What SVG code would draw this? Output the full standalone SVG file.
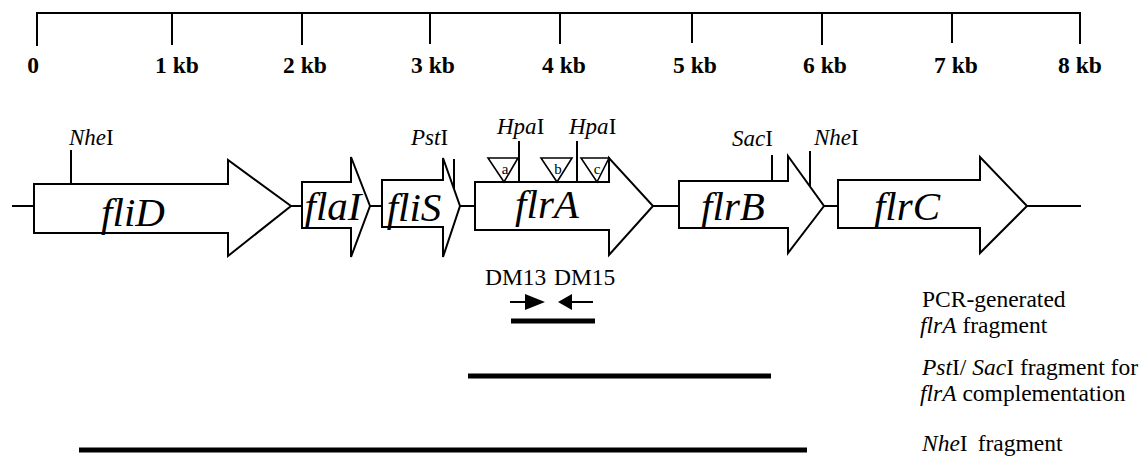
<svg xmlns="http://www.w3.org/2000/svg" width="1142" height="459" viewBox="0 0 1142 459">
<style>
text{font-family:"Liberation Serif","Times New Roman",serif;fill:#000}
.ln{stroke:#000;stroke-width:2;fill:none}
.gene{stroke:#000;stroke-width:2;fill:#fff;stroke-linejoin:miter}
.tri{stroke:#000;stroke-width:1.6;fill:#fff}
.rl{font-weight:bold;font-size:23.5px;text-anchor:middle}
.gl{font-style:italic;font-size:41px;text-anchor:middle}
.sl{font-size:23px}
.tl{font-size:15px;text-anchor:middle}
.pl{font-size:23.5px}
.rt{font-size:23.5px}
.it{font-style:italic}
.bar{stroke:#000;stroke-width:5;fill:none}
</style>
<rect width="1142" height="459" fill="#fff"/>

<g id="ruler">
<path class="ln" d="M37 13H1080M37 12V46M172 12V45M302 12V45M430 12V44M560 12V44M692 12V43M822 12V45M952 12V43M1080 12V44"/>
<text class="rl" x="33" y="73">0</text>
<text class="rl" x="177" y="73">1 kb</text>
<text class="rl" x="305" y="73">2 kb</text>
<text class="rl" x="433" y="73">3 kb</text>
<text class="rl" x="564" y="73">4 kb</text>
<text class="rl" x="695" y="73">5 kb</text>
<text class="rl" x="825" y="73">6 kb</text>
<text class="rl" x="956" y="73">7 kb</text>
<text class="rl" x="1080" y="73">8 kb</text>
</g>

<g id="connectors">
<path class="ln" d="M12 206H34M291 206H302M370 206H382M460 206H475M653 206H679M824 206H838M1027 206H1081"/>
</g>

<g id="fliD">
<path class="gene" d="M34 184H228V160L291 206L228 256V233H34Z"/>
<text class="gl" x="133" y="226">fliD</text>
</g>
<g id="flaI">
<path class="gene" d="M302 182H351V157L370 206L351 257V228H302Z"/>
<text class="gl" x="333" y="220">flaI</text>
</g>
<g id="fliS">
<path class="gene" d="M382 180H443V158L460 206L443 257V227H382Z"/>
<text class="gl" x="414" y="221">fliS</text>
</g>
<g id="flrA">
<path class="gene" d="M475 182H609V158L653 206L609 255V230H475Z"/>
<text class="gl" x="547" y="218">flrA</text>
</g>
<g id="flrB">
<path class="gene" d="M679 181H788V156L824 206L788 253V228H679Z"/>
<text class="gl" x="733" y="220">flrB</text>
</g>
<g id="flrC">
<path class="gene" d="M838 180H980V157L1027 206L980 253V228H838Z"/>
<text class="gl" x="907" y="220">flrC</text>
</g>

<g id="sites">
<path class="ln" d="M71 150V184M454 159V189M519 141V182M577 141V182M772 155V181M810 151V186"/>
<text class="sl" x="69" y="145"><tspan class="it">Nhe</tspan>I</text>
<text class="sl" x="411" y="145"><tspan class="it">Pst</tspan>I</text>
<text class="sl" x="497" y="134"><tspan class="it">Hpa</tspan>I</text>
<text class="sl" x="569" y="134"><tspan class="it">Hpa</tspan>I</text>
<text class="sl" x="732" y="146"><tspan class="it">Sac</tspan>I</text>
<text class="sl" x="814" y="145"><tspan class="it">Nhe</tspan>I</text>
</g>

<g id="insertions">
<path class="tri" d="M488 158H518L504 182Z"/>
<text class="tl" x="505" y="174">a</text>
<path class="tri" d="M541 158H572L557 182Z"/>
<text class="tl" x="558" y="174">b</text>
<path class="tri" d="M581 158H609L597 182Z"/>
<text class="tl" x="597" y="174">c</text>
</g>

<g id="primers">
<text class="pl" x="485" y="285">DM13</text>
<text class="pl" x="554" y="285">DM15</text>
<path class="ln" d="M510 302H527M572 302H593"/>
<path d="M525 294L545 302L525 310Z M572 294L558 302L572 310Z" fill="#000"/>
</g>

<g id="fragments">
<path class="bar" d="M511 321H595M468 376H771M79 450H807"/>
<text class="rt" x="922" y="307">PCR-generated</text>
<text class="rt" x="920" y="333"><tspan class="it">flrA</tspan> fragment</text>
<text class="rt" x="922" y="375"><tspan class="it">Pst</tspan>I/ <tspan class="it">Sac</tspan>I fragment for</text>
<text class="rt" x="920" y="401"><tspan class="it">flrA</tspan> complementation</text>
<text class="rt" x="922" y="451"><tspan class="it">Nhe</tspan>I<tspan dx="10">fragment</tspan></text>
</g>
</svg>
